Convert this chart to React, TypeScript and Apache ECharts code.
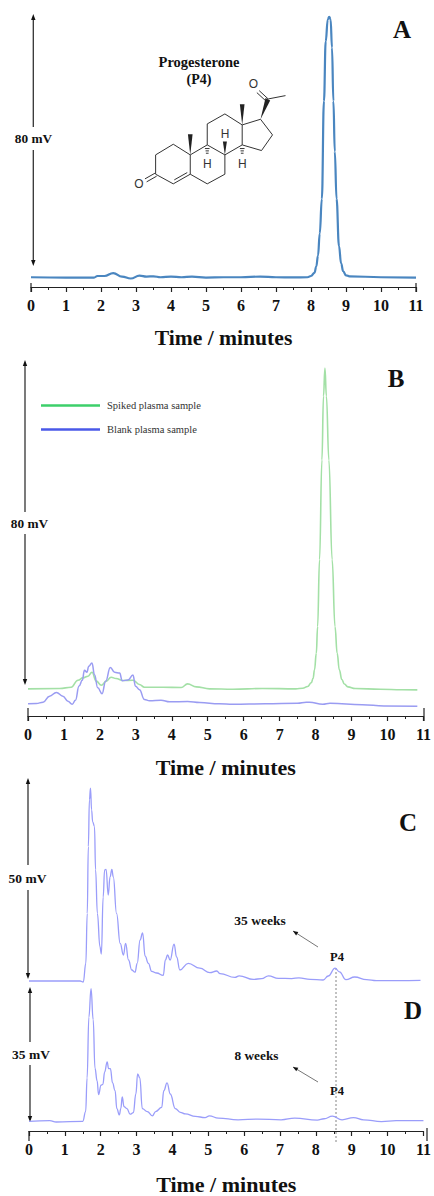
import React, { useEffect, useRef } from "react";
import * as echarts from "echarts";

const timeTicks = ["0","1","2","3","4","5","6","7","8","9","10","11"];
const xTitle = "Time / minutes";

const standardP4 = [[0,0.1],[1,0],[1.8,0],[1.9,0.5],[2.1,0.5],[2.35,1.4],[2.6,0.3],[2.85,-0.3],[3.1,0.6],[3.3,0.3],[3.5,0.4],[3.7,0.1],[4,0.3],[4.3,0.1],[4.6,0.3],[5,0],[5.5,0.1],[6,0.1],[6.55,0.3],[7,0.1],[7.5,0.05],[7.9,0.1],[8,0.5],[8.1,1.5],[8.15,3.5],[8.2,7],[8.25,14],[8.31,25],[8.37,56],[8.42,75],[8.48,82],[8.52,82.8],[8.56,82],[8.6,73],[8.64,56],[8.68,40],[8.73,25],[8.8,10],[8.86,4.5],[8.92,2],[9,0.7],[9.1,0.4],[10,0.1],[11,0]];

const spikedPlasma = [[0,3.7],[0.88,3.79],[1.2,4.1],[1.39,5.84],[1.53,6.42],[1.67,6.83],[1.78,7.82],[1.9,5.6],[2.04,4.6],[2.18,5.6],[2.31,6.58],[2.45,6.25],[2.64,5.76],[2.92,5.84],[3.1,4.77],[3.24,4.1],[3.75,4.1],[4.26,4.03],[4.44,4.94],[4.68,4.2],[5.05,3.7],[5.7,3.6],[6.52,3.8],[7.45,3.7],[7.64,3.85],[7.78,4.3],[7.88,5.2],[7.93,6.3],[7.97,8.4],[8.02,12.5],[8.056,19.1],[8.11,35.6],[8.176,60.2],[8.22,76],[8.26,82.9],[8.3,76],[8.37,60.2],[8.46,35.6],[8.54,19.1],[8.6,12.5],[8.66,8.4],[8.73,6],[8.8,4.9],[8.9,4.2],[9.1,3.8],[9.8,3.6],[10.4,3.5],[10.83,3.46]];

const blankPlasma = [[0,0],[0.23,0.08],[0.42,0.41],[0.6,1.9],[0.79,2.8],[0.97,1.9],[1.11,0.66],[1.23,-0.08],[1.32,0.9],[1.42,4.4],[1.51,5.8],[1.57,8.3],[1.64,7.8],[1.69,9.3],[1.78,10.1],[1.85,7.2],[1.94,3.95],[2.06,2.5],[2.16,5.6],[2.29,9],[2.41,7.8],[2.55,7.6],[2.62,5.7],[2.78,5.9],[2.92,7.1],[2.99,4.35],[3.1,3.5],[3.24,1.07],[3.38,0.74],[3.7,0.9],[3.94,0.5],[4.44,0.58],[4.78,0.33],[5.32,0],[5.7,-0.1],[6.6,0],[7.5,0.15],[7.74,0.4],[7.83,0.4],[8.2,-0.1],[8.4,0.15],[9.3,-0.2],[9.9,-0.5],[10.83,-0.6]];

const weeks35 = [[0,0],[0.857,0],[1.41,0],[1.5,-0.25],[1.57,4.4],[1.61,16.9],[1.64,33.6],[1.67,45.3],[1.7,48.2],[1.73,42.8],[1.76,39.8],[1.81,38.6],[1.84,27.8],[1.89,16.9],[1.96,8.6],[2,6.75],[2.05,21],[2.09,27.8],[2.13,27.9],[2.19,21.5],[2.24,26],[2.29,27.9],[2.33,26],[2.42,16.9],[2.52,9.4],[2.61,6.5],[2.67,9.4],[2.75,5.25],[2.84,2.75],[2.93,2.2],[2.99,4.4],[3.07,10.25],[3.14,12],[3.21,6.2],[3.3,4.4],[3.39,2.4],[3.53,2],[3.71,1.4],[3.77,5.25],[3.83,6.5],[3.9,5.25],[4.01,9.2],[4.08,6],[4.17,2.75],[4.4,4.4],[4.72,3.2],[5,2.1],[5.19,2.5],[5.28,1.85],[5.69,0.9],[5.81,1.3],[6.2,0.4],[6.43,0.6],[6.62,1.3],[6.89,0.67],[7.26,0.6],[7.46,0.8],[7.77,0.4],[8.13,0.25],[8.27,1.25],[8.46,3.2],[8.58,2.3],[8.76,0.33],[9,1],[9.33,0.33],[9.6,0.08],[10.82,0.17]];

const weeks8 = [[0,0.09],[0.58,0.26],[0.76,-0.09],[1.5,0.09],[1.58,2.7],[1.62,11.7],[1.67,28],[1.73,35.6],[1.79,27.3],[1.84,14.3],[1.9,10.9],[1.94,7.25],[2.01,9.8],[2.06,10],[2.11,13.3],[2.18,16],[2.22,14.2],[2.27,14.2],[2.33,10.4],[2.4,8.3],[2.45,3.5],[2.52,1.8],[2.56,3.5],[2.6,6.6],[2.65,4],[2.73,3.5],[2.82,2],[2.91,2.4],[2.98,7.4],[3.03,12.8],[3.09,11.7],[3.16,3.5],[3.3,2.7],[3.44,1.55],[3.53,2.7],[3.7,3.8],[3.76,8.3],[3.85,10.4],[3.94,7.4],[4.08,3.5],[4.22,2.5],[4.36,2.07],[4.64,1.4],[4.91,1.1],[5.03,1.55],[5.28,0.95],[5.83,0.5],[6.38,0.7],[7.03,0.5],[7.41,0.95],[8.04,0.43],[8.23,0.78],[8.46,1.47],[8.73,0.5],[9.05,1.1],[9.33,0.5],[9.83,0],[10.24,0.26],[11,0.26]];

const SERIF = '"Liberation Serif", "Times New Roman", serif';
const SANS = '"Liberation Sans", Arial, sans-serif';

const moleculeBonds =
  "M105 417L135 400M110 426L140 409M137 403L137 345L190 313L241 345L241 403L190 432L137 403" +
  "M193 420L232 398M241 345L292 315L345 345L345 403L292 432L241 403" +
  "M292 315L292 252L345 222L397 255L397 315L345 345M397 255L452 238L488 285L455 332L397 315" +
  "M475 177L527 167M475 177L448 152M468 183L441 158" +
  "M285 326L299 326M287 333L297 333M288 340L296 340M390 326L404 326M392 333L402 333M393 340L401 340";
echarts.graphic.registerShape("progesteroneBonds", echarts.graphic.extendPath(moleculeBonds, {}));

function vArrow(x: number, top: number, bottom: number, gapTop: number, gapBottom: number) {
  const style = { stroke: "#333", lineWidth: 1.3 };
  return [
    { type: "line", shape: { x1: x, y1: top + 3, x2: x, y2: gapTop }, style },
    { type: "line", shape: { x1: x, y1: gapBottom, x2: x, y2: bottom - 3 }, style },
    { type: "polygon", shape: { points: [[x, top], [x - 2.2, top + 6], [x + 2.2, top + 6]] }, style: { fill: "#111" } },
    { type: "polygon", shape: { points: [[x, bottom], [x - 2.2, bottom - 6], [x + 2.2, bottom - 6]] }, style: { fill: "#111" } },
  ];
}

function label(text: string, x: number, y: number, size: number, align = "center", fill = "#111", bold = true) {
  return {
    type: "text", x, y,
    style: { text, fill, font: `${bold ? "bold " : ""}${size}px ${SERIF}`, textAlign: align, textVerticalAlign: "middle" },
  };
}

function pointer(x1: number, y1: number, x2: number, y2: number) {
  const a = Math.atan2(y2 - y1, x2 - x1);
  const p = (d: number, w: number) => [x2 - d * Math.cos(a) - w * Math.sin(a), y2 - d * Math.sin(a) + w * Math.cos(a)];
  return [
    { type: "line", shape: { x1, y1, x2, y2 }, style: { stroke: "#777", lineWidth: 1 } },
    { type: "polygon", shape: { points: [[x2, y2], p(5, 2), p(5, -2)] }, style: { fill: "#111" } },
  ];
}

function endCap(x: number, y1: number, y2: number) {
  return { type: "line", shape: { x1: x, y1, x2: x, y2 }, style: { stroke: "#222", lineWidth: 1.2 } };
}

function moleculeGraphic() {
  const wedge = (pts: number[][]) => ({ type: "polygon", shape: { points: pts }, style: { fill: "#222" } });
  const atom = (text: string, x: number, y: number) => ({
    type: "text", x, y,
    style: { text, fill: "#333", font: `36px ${SANS}`, textAlign: "center", textVerticalAlign: "middle" },
  });
  return {
    type: "group", x: 110, y: 40, scaleX: 1 / 3, scaleY: 1 / 3,
    children: [
      { type: "progesteroneBonds", style: { stroke: "#333", lineWidth: 3, fill: "none" } },
      wedge([[241, 345], [234, 283], [248, 283]]),
      wedge([[397, 255], [390, 193], [404, 193]]),
      wedge([[345, 345], [339, 305], [351, 305]]),
      wedge([[452, 238], [467, 174], [481, 182]]),
      atom("O", 87, 432), atom("O", 430, 132), atom("H", 345, 283), atom("H", 292, 373), atom("H", 397, 373),
    ],
  };
}

function App() {
  const ref = useRef<HTMLDivElement>(null);
  useEffect(() => {
    document.body.style.margin = "0";
    const chart = echarts.init(ref.current!, null, { renderer: "svg" });

    const xAxisFor = (gridIndex: number, show: boolean, name: string, nameGap: number, nameSize: number) => ({
      type: "value", gridIndex, min: 0, max: 11, interval: 1, show,
      name, nameLocation: "middle", nameGap,
      nameTextStyle: { fontFamily: SERIF, fontWeight: "bold", fontSize: nameSize, color: "#111" },
      splitLine: { show: false },
      axisLine: { onZero: false, lineStyle: { color: "#222", width: 1.2 } },
      axisTick: { show: true, inside: false, length: 5, lineStyle: { color: "#222", width: 1.2 } },
      minorTick: { show: true, splitNumber: 2, length: 3, lineStyle: { color: "#222", width: 1 } },
      axisLabel: {
        margin: 10, fontFamily: SERIF, fontWeight: "bold", fontSize: 16, color: "#111",
        formatter: (v: number) => timeTicks[v],
        showMinLabel: true, showMaxLabel: true,
      },
    });
    const yAxisFor = (gridIndex: number, min: number, max: number) => ({
      type: "value", gridIndex, min, max, show: false, splitLine: { show: false },
    });
    const lineFor = (name: string, idx: number, data: number[][], color: string, width: number) => ({
      name, type: "line", xAxisIndex: idx, yAxisIndex: idx, data,
      showSymbol: false, symbol: "none", smooth: 0.45, smoothMonotone: "x",
      lineStyle: { color, width }, itemStyle: { color },
    });

    chart.setOption({
      animation: false,
      backgroundColor: "#fff",
      grid: [
        { left: 31, top: 13, width: 385, height: 274 },
        { left: 28, top: 359.6, width: 396, height: 356.4 },
        { left: 29, top: 777, width: 398, height: 208 },
        { left: 29, top: 981.6, width: 398, height: 154.4 },
      ],
      xAxis: [
        xAxisFor(0, true, xTitle, 40, 21.6),
        xAxisFor(1, true, xTitle, 40, 22),
        xAxisFor(2, false, "", 40, 22),
        xAxisFor(3, true, xTitle, 42, 22),
      ],
      yAxis: [yAxisFor(0, -3, 84), yAxisFor(1, -3, 85), yAxisFor(2, -1, 51), yAxisFor(3, -2.5, 37.5)],
      legend: {
        left: 36, top: 395, orient: "vertical", itemWidth: 59, itemHeight: 2.5, itemGap: 13,
        icon: "rect", selectedMode: false,
        textStyle: { fontFamily: SERIF, fontSize: 10.5, color: "#333", padding: [0, 0, 0, 2] },
        data: [
          { name: "Spiked plasma sample", itemStyle: { color: "#3ccf6a" } },
          { name: "Blank plasma sample", itemStyle: { color: "#4a58e8" } },
        ],
      },
      series: [
        lineFor("Progesterone standard", 0, standardP4, "#4a86c0", 2.2),
        lineFor("Spiked plasma sample", 1, spikedPlasma, "#a3e0a6", 1.6),
        lineFor("Blank plasma sample", 1, blankPlasma, "#9a9cf2", 1.5),
        lineFor("35 weeks", 2, weeks35, "#9a9dfa", 1.3),
        lineFor("8 weeks", 3, weeks8, "#9a9dfa", 1.3),
      ],
      graphic: { elements: [
        ...vArrow(33.3, 14, 266, 127, 150),
        ...vArrow(25, 360, 685, 512, 534),
        ...vArrow(28, 778, 979, 865, 890),
        ...vArrow(30, 987, 1122, 1042, 1065),
        label("80 mV", 33.5, 138, 13.3),
        label("80 mV", 29.5, 523, 13.3),
        label("50 mV", 27.5, 878, 13.5),
        label("35 mV", 31, 1054, 13.5),
        label("A", 402, 29, 25),
        label("B", 396, 378, 25),
        label("C", 408, 822, 25),
        label("D", 413, 1010, 25),
        label("Progesterone", 199, 62, 14.5),
        label("(P4)", 199, 79, 14),
        moleculeGraphic(),
        label("35 weeks", 260, 920, 13.5),
        label("8 weeks", 256.5, 1055, 13.3),
        label("P4", 337, 957, 12.5),
        label("P4", 337, 1091, 12.5),
        ...pointer(318, 947, 293, 931),
        ...pointer(318, 1082, 293, 1067),
        { type: "line", shape: { x1: 336, y1: 968, x2: 336, y2: 1144 }, style: { stroke: "#666", lineWidth: 0.8, lineDash: [2, 2] } },
        endCap(31, 283, 292), endCap(416, 283, 292),
        endCap(28, 708, 721), endCap(424, 708, 721),
        endCap(29, 1131, 1141), endCap(427, 1128, 1141),
      ] },
    });
    return () => chart.dispose();
  }, []);
  return <div ref={ref} style={{ position: "absolute", left: 0, top: 0, width: 434, height: 1196 }} />;
}

export default App;
